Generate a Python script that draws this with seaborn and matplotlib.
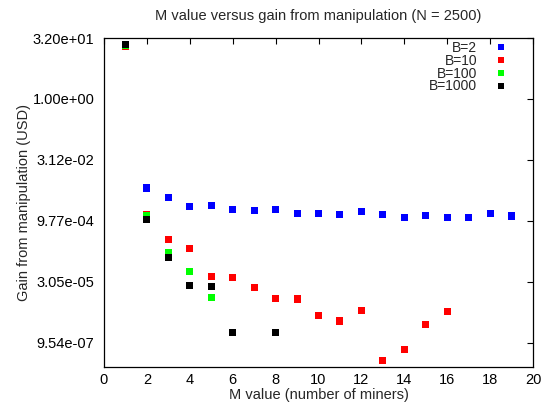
import numpy as np
import pandas as pd
import matplotlib
matplotlib.use("Agg")
import matplotlib.pyplot as plt
import seaborn as sns
from matplotlib.ticker import FixedLocator, FormatStrFormatter, NullLocator

# ---- data ----
m_b2 = list(range(1, 20))
g_b2 = [19.7, 0.0063, 0.0036, 0.00224, 0.00239, 0.00186, 0.00176, 0.00186, 0.00151,
        0.00151, 0.00140, 0.00166, 0.00140, 0.00120, 0.00132, 0.00120, 0.00120, 0.00145, 0.00128]

m_b10 = list(range(1, 17))
g_b10 = [20.3, 0.00143, 3.39e-4, 2.07e-4, 4.05e-5, 3.82e-5, 2.17e-5, 1.20e-5, 1.14e-5,
         4.35e-6, 3.27e-6, 5.86e-6, 3.5e-7, 6.5e-7, 2.7e-6, 5.5e-6]

m_b100 = [1, 2, 3, 4, 5]
g_b100 = [21.0, 1.35e-3, 1.6e-4, 5.4e-5, 1.25e-5]

m_b1000 = [1, 2, 3, 4, 5, 6, 8]
g_b1000 = [22.1, 1.03e-3, 1.24e-4, 2.48e-5, 2.27e-5, 1.66e-6, 1.66e-6]

series = ["B=2", "B=10", "B=100", "B=1000"]
colors = ["#0000ff", "#ff0000", "#00ff00", "#000000"]
y_ticks = [32.0 ** k for k in range(1, -5, -1)]
x_ticks = list(range(0, 21, 2))

df = pd.concat([
    pd.DataFrame({"M": m_b2, "gain": g_b2, "series": "B=2"}),
    pd.DataFrame({"M": m_b10, "gain": g_b10, "series": "B=10"}),
    pd.DataFrame({"M": m_b100, "gain": g_b100, "series": "B=100"}),
    pd.DataFrame({"M": m_b1000, "gain": g_b1000, "series": "B=1000"}),
], ignore_index=True)

sns.set_style("white")
plt.rcParams["font.family"] = ["Liberation Sans", "DejaVu Sans"]

fig = plt.figure(figsize=(5.45, 4.05), dpi=100)
ax = fig.add_axes([104 / 545, 1 - 367 / 405, (533 - 104) / 545, (367 - 38) / 405])

sns.scatterplot(data=df, x="M", y="gain", hue="series", hue_order=series,
                palette=dict(zip(series, colors)), marker="s", s=26,
                linewidth=0, ax=ax, legend=True)

ax.set_yscale("log")
ax.set_xlim(0, 20)
ax.set_ylim(2.0 ** -22, 2.0 ** 5)
ax.yaxis.set_major_locator(FixedLocator(y_ticks))
ax.yaxis.set_major_formatter(FormatStrFormatter("%.2e"))
ax.yaxis.set_minor_locator(NullLocator())
ax.xaxis.set_major_locator(FixedLocator(x_ticks))

ax.tick_params(axis="both", which="major", direction="in", length=4, width=0.8,
               top=True, right=True, labelsize=10.5, colors="black")
ax.tick_params(axis="y", pad=7)
ax.tick_params(axis="x", pad=4)
for sp in ax.spines.values():
    sp.set_color("black")
    sp.set_linewidth(0.9)

ax.set_xlabel("M value (number of miners)", fontsize=10.5, labelpad=1)
ax.set_ylabel("Gain from manipulation (USD)", fontsize=10.5, labelpad=1)
ax.set_title("M value versus gain from manipulation (N = 2500)", fontsize=10.5, pad=13)

handles, labels = ax.get_legend_handles_labels()
leg = ax.legend(handles, labels, loc="upper right", markerfirst=False, frameon=False,
                fontsize=10, labelspacing=-0.08, handletextpad=1.3, handlelength=0.8,
                markerscale=0.85, borderpad=0.2, borderaxespad=0.0,
                bbox_to_anchor=(0.944, 1.0))

fig.savefig("out.png", dpi=100)
